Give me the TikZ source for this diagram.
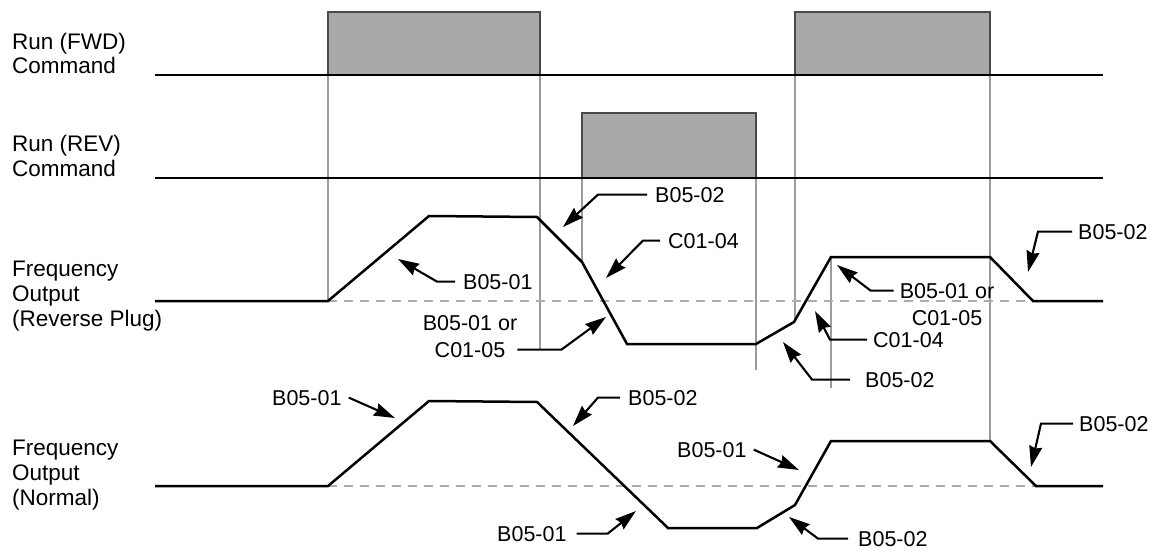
\documentclass[tikz,border=0pt]{standalone}
\usepackage{fontspec}
\setmainfont{Liberation Sans}
\usetikzlibrary{arrows.meta}
\definecolor{pulsegray}{HTML}{A7A9AB}
\definecolor{pulseedge}{HTML}{4A4A4A}
\definecolor{guidegray}{HTML}{9C9C9C}
\definecolor{dashgray}{HTML}{ABABAB}
\begin{document}
\begin{tikzpicture}[x=1pt,y=-1pt,
  side/.style={inner sep=0pt, anchor=base west, font=\fontsize{22.5}{26}\selectfont},
  lbl/.style={inner sep=0pt, anchor=base west, font=\fontsize{21.5}{26}\selectfont},
  lblc/.style={inner sep=0pt, anchor=base, font=\fontsize{21.5}{26}\selectfont},
  ptr/.style={line width=2.1pt, -{Stealth[length=21pt,width=13pt,inset=2pt]}},
  cmdline/.style={line width=2.4pt},
  wave/.style={line width=2.5pt, line join=miter},
  guide/.style={line width=1.3pt, draw=guidegray},
  zero/.style={line width=1.6pt, draw=dashgray, dash pattern=on 9pt off 7pt},
  pulse/.style={fill=pulsegray, draw=pulseedge, line width=1.5pt}]
\useasboundingbox[fill=white] (0,0) rectangle (1162,551);

% guide lines
\draw[guide] (328,75) -- (328,301);
\draw[guide] (540,75) -- (540,350);
\draw[guide] (582,178) -- (582,262);
\draw[guide] (756,178) -- (756,370);
\draw[guide] (795,75) -- (795,322);
\draw[guide] (831,257) -- (831,388);
\draw[guide] (990,75) -- (990,441);

% zero lines
\draw[zero] (328,301) -- (1103,301);
\draw[zero] (328,486) -- (1103,486);

% pulses
\draw[pulse] (328,75) rectangle (540,12);
\draw[pulse] (795,75) rectangle (990,12);
\draw[pulse] (582,178) rectangle (756,113);
\draw[cmdline] (155,75) -- (1103,75);
\draw[cmdline] (155,178) -- (1103,178);

% waveforms
\draw[wave] (155,301) -- (328,301) -- (429,216) -- (537,217) -- (582,262) -- (627,344)
  -- (756,344) -- (794,322) -- (831,257) -- (990,257) -- (1033,301) -- (1103,301);
\draw[wave] (155,486) -- (328,486) -- (429,401) -- (537,402) -- (668,528) -- (757,528)
  -- (795,505) -- (831,441) -- (990,441) -- (1036,486) -- (1103,486);

% left labels
\node[side] (fwd1) at (12,49) {Run (FWD)};
\node[side] (fwd2) at (12,74) {Command};
\node[side] (rev1) at (12,151) {Run (REV)};
\node[side] (rev2) at (12,176) {Command};
\node[side] (rp1) at (12,276) {Frequency};
\node[side] (rp2) at (12,301) {Output};
\node[side] (rp3) at (12,326) {(Reverse Plug)};
\node[side] (nm1) at (12,455) {Frequency};
\node[side] (nm2) at (12,480) {Output};
\node[side] (nm3) at (12,505) {(Normal)};

% arrow tips
\coordinate (t1) at (398,259);
\coordinate (t2) at (563,227);
\coordinate (t3) at (606,278);
\coordinate (t4) at (606,317);
\coordinate (t5) at (837,265);
\coordinate (t6) at (815,311);
\coordinate (t7) at (783,342);
\coordinate (t8) at (1028,272);
\coordinate (u1) at (395,418);
\coordinate (u2) at (573,426);
\coordinate (u3) at (636,511);
\coordinate (u4) at (799,470);
\coordinate (u5) at (789,517);
\coordinate (u6) at (1031,467);

% reverse plug labels
\node[lbl] (a1) at (463,289) {B05-01};
\node[lbl] (a2) at (655,202) {B05-02};
\node[lbl] (a3) at (668,248) {C01-04};
\node[lblc] (a4a) at (470,330) {B05-01 or};
\node[lblc] (a4b) at (470,357) {C01-05};
\node[lblc] (a5a) at (947,298) {B05-01 or};
\node[lblc] (a5b) at (947,325) {C01-05};
\node[lbl] (a6) at (873,347) {C01-04};
\node[lbl] (a7) at (865,387) {B05-02};
\node[lbl] (a8) at (1078,239) {B05-02};

% normal labels
\node[lbl] (b1) at (272,405) {B05-01};
\node[lbl] (b2) at (628,405) {B05-02};
\node[lbl] (b3) at (497,541) {B05-01};
\node[lbl] (b4) at (677,457) {B05-01};
\node[lbl] (b5) at (858,546) {B05-02};
\node[lbl] (b6) at (1079,431) {B05-02};

% pointers
\draw[ptr] ([xshift=-8pt]a1.west) -- ([xshift=-26pt]a1.west) -- (t1);
\draw[ptr] ([xshift=-8pt]a2.west) -- ([xshift=-57pt]a2.west) -- (t2);
\draw[ptr] ([xshift=-8pt]a3.west) -- ([xshift=-25pt]a3.west) -- (t3);
\draw[ptr] ([xshift=12pt]a4b.east) -- ([xshift=56pt]a4b.east) -- (t4);
\draw[ptr] ([xshift=-6pt]a5a.west) -- ([xshift=-29pt]a5a.west) -- (t5);
\draw[ptr] ([xshift=-6pt]a6.west) -- ([xshift=-43pt]a6.west) -- (t6);
\draw[ptr] ([xshift=-15pt]a7.west) -- ([xshift=-53pt]a7.west) -- (t7);
\draw[ptr] ([xshift=-6pt]a8.west) -- ([xshift=-40pt]a8.west) -- (t8);

\draw[ptr] ([xshift=7pt]b1.east) -- (u1);
\draw[ptr] ([xshift=-8pt]b2.west) -- ([xshift=-30pt]b2.west) -- (u2);
\draw[ptr] ([xshift=10pt]b3.east) -- ([xshift=41pt]b3.east) -- (u3);
\draw[ptr] ([xshift=7pt]b4.east) -- (u4);
\draw[ptr] ([xshift=-10pt]b5.west) -- ([xshift=-40pt]b5.west) -- (u5);
\draw[ptr] ([xshift=-6pt]b6.west) -- ([xshift=-38pt]b6.west) -- (u6);
\end{tikzpicture}
\end{document}
